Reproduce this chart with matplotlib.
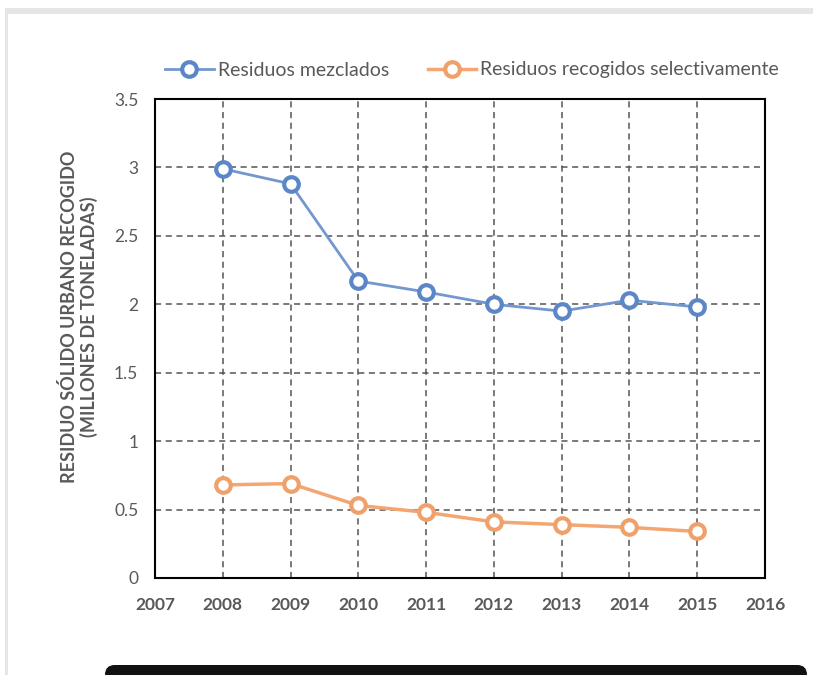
import matplotlib.pyplot as plt
from matplotlib.patches import Rectangle, FancyBboxPatch

years = [2008, 2009, 2010, 2011, 2012, 2013, 2014, 2015]
mezclados = [2.99, 2.88, 2.17, 2.09, 2.00, 1.95, 2.03, 1.98]
selectivos = [0.68, 0.69, 0.53, 0.48, 0.41, 0.39, 0.37, 0.34]
x_ticks = list(range(2007, 2017))
y_ticks = [0, 0.5, 1, 1.5, 2, 2.5, 3, 3.5]
y_tick_labels = ["0", "0.5", "1", "1.5", "2", "2.5", "3", "3.5"]

plt.rcParams["font.family"] = ["Lato", "DejaVu Sans"]
grey_text = "#595959"

W, H = 813, 675
fig = plt.figure(figsize=(W / 100, H / 100), dpi=100)

# page frame (light grey border on top and left)
fig.patches.append(Rectangle((5 / W, 0), 3 / W, 1 - 8 / H, transform=fig.transFigure,
                             facecolor="#e6e6e6", edgecolor="none"))
fig.patches.append(Rectangle((5 / W, 1 - 14 / H), 1, 6 / H, transform=fig.transFigure,
                             facecolor="#e6e6e6", edgecolor="none"))
# dark caption bar at the bottom
fig.patches.append(FancyBboxPatch((105 / W, -20 / H), 702 / W, 30 / H,
                                  boxstyle="round,pad=0,rounding_size=0.012",
                                  transform=fig.transFigure, facecolor="#111111",
                                  edgecolor="none", mutation_aspect=W / H))

ax = fig.add_axes([155 / W, 1 - 578 / H, 610 / W, 479 / H])
ax.plot(years, mezclados, color="#7397cf", lw=2, marker="o", ms=10.5,
        mfc="white", mec="#5b86c7", mew=3, label="Residuos mezclados", zorder=3)
ax.plot(years, selectivos, color="#f3a672", lw=2.5, marker="o", ms=10.5,
        mfc="white", mec="#f0a06a", mew=3, label="Residuos recogidos selectivamente", zorder=3)

ax.set_xlim(2007, 2016)
ax.set_ylim(0, 3.5)
ax.set_xticks(x_ticks)
ax.set_yticks(y_ticks)
ax.set_yticklabels(y_tick_labels)
ax.tick_params(length=0, labelsize=12.5, colors=grey_text)
ax.tick_params(axis="x", pad=14)
ax.tick_params(axis="y", pad=12)
for lab in ax.get_xticklabels():
    lab.set_fontweight("bold")
ax.grid(True, ls=(0, (4, 3)), color="#555555", lw=1.1)
for s in ax.spines.values():
    s.set_linewidth(1.5)
    s.set_color("black")

fig.text(79 / W, 1 - 317 / H, "RESIDUO SÓLIDO URBANO RECOGIDO\n(MILLONES DE TONELADAS)",
         rotation=90, ha="center", va="center", fontsize=13, fontweight="bold",
         color=grey_text, linespacing=1.15)

fig.legend(loc="center", bbox_to_anchor=(472 / W, 1 - 70 / H), ncol=2, frameon=False,
           fontsize=14, handlelength=2.5, columnspacing=2.0, handletextpad=0.2,
           labelcolor=grey_text)

fig.savefig("out.png", dpi=100)
